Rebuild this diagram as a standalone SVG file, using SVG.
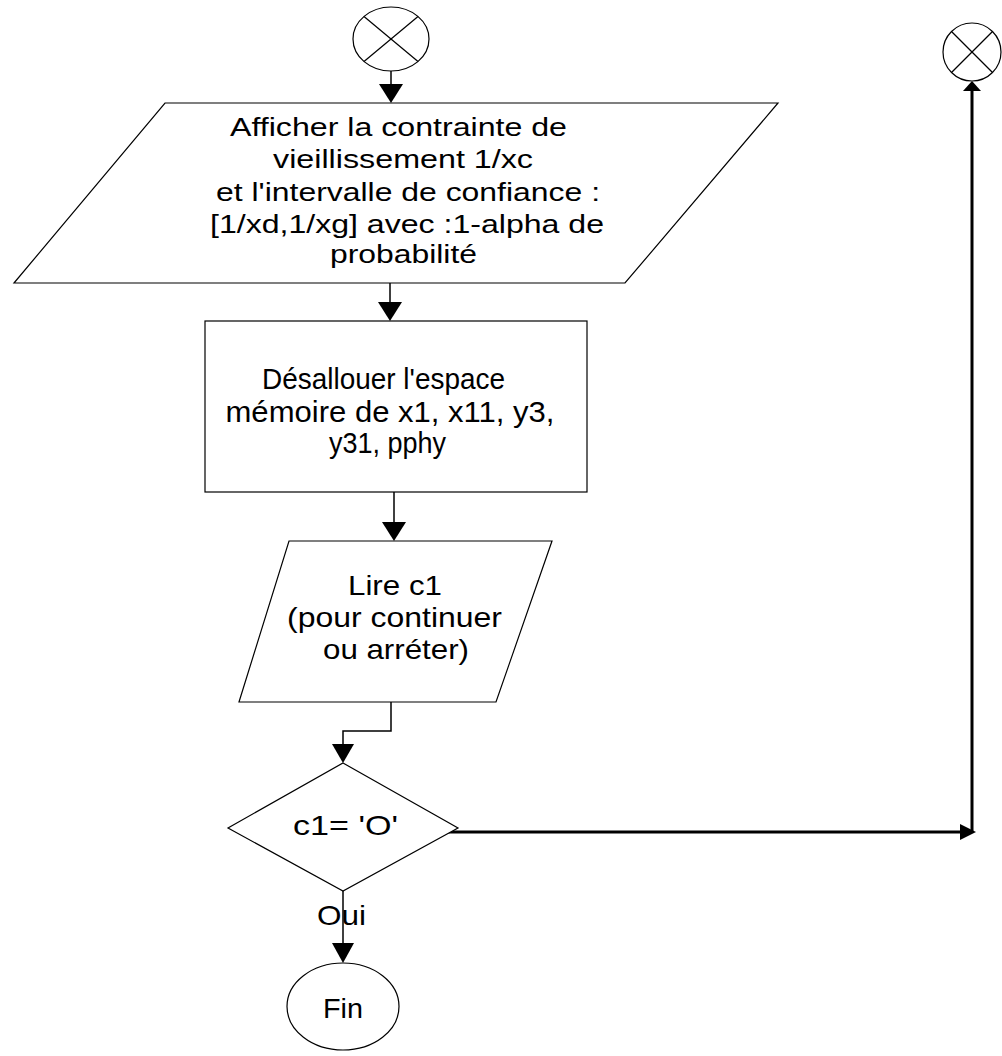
<svg xmlns="http://www.w3.org/2000/svg" width="1002" height="1056" viewBox="0 0 1002 1056">
  <style>
    .shape { fill: #ffffff; stroke: #000000; stroke-width: 1.2; }
    .cross { stroke: #000000; stroke-width: 1.2; fill: none; }
    .wire { fill: none; stroke: #000000; stroke-width: 1.5; }
    .wire-bold { fill: none; stroke: #000000; stroke-width: 3; }
    .head { fill: #000000; stroke: none; }
    .label { font-family: "Liberation Sans", Arial, sans-serif; fill: #000000; text-anchor: middle; }
    .t26 { font-size: 26px; }
    .t28 { font-size: 28px; }
    .t29 { font-size: 29px; }
  </style>
  <rect width="1002" height="1056" fill="#ffffff"/>

  <!-- connectors -->
  <g id="connectors">
    <!-- start connector -> display -->
    <line class="wire" x1="391" y1="71" x2="391" y2="86"/>
    <polygon class="head" points="379,84 403,84 391,103"/>
    <!-- display -> free memory -->
    <line class="wire" x1="390" y1="283" x2="390" y2="304"/>
    <polygon class="head" points="378,302 402,302 390,321"/>
    <!-- free memory -> read c1 -->
    <line class="wire" x1="394" y1="492" x2="394" y2="524"/>
    <polygon class="head" points="382,522 406,522 394,541"/>
    <!-- read c1 -> test -->
    <polyline class="wire" points="391,702 391,731 343,731 343,746"/>
    <polygon class="head" points="332,744 354,744 343,763"/>
    <!-- test (Oui) -> Fin -->
    <line class="wire" x1="343" y1="891" x2="343" y2="945"/>
    <polygon class="head" points="332,943 354,943 343,963"/>
    <text class="label t28" x="341.5" y="925" textLength="49" lengthAdjust="spacingAndGlyphs">Oui</text>
    <!-- test (else) -> loop back connector -->
    <line class="wire-bold" x1="442" y1="832" x2="962" y2="832"/>
    <polygon class="head" points="960,824 960,840 976,832"/>
    <line class="wire-bold" x1="972" y1="832" x2="972" y2="89"/>
    <polygon class="head" points="963,91 981,91 972,81"/>
  </g>

  <!-- start connector -->
  <g id="start">
    <ellipse class="shape" cx="391" cy="39" rx="38" ry="32"/>
    <line class="cross" x1="364" y1="16.5" x2="418" y2="61.5"/>
    <line class="cross" x1="418" y1="16.5" x2="364" y2="61.5"/>
  </g>

  <!-- loop back connector -->
  <g id="loop">
    <circle class="shape" cx="972" cy="52" r="29"/>
    <line class="cross" x1="951.5" y1="31.5" x2="992.5" y2="72.5"/>
    <line class="cross" x1="992.5" y1="31.5" x2="951.5" y2="72.5"/>
  </g>

  <!-- display result -->
  <g id="display">
    <polygon class="shape" points="165,103 778,103 625,283 14,283"/>
    <text class="label t26" x="398.5" y="136" textLength="337" lengthAdjust="spacingAndGlyphs">Afficher la contrainte de</text>
    <text class="label t26" x="403" y="168" textLength="260" lengthAdjust="spacingAndGlyphs">vieillissement 1/xc</text>
    <text class="label t26" x="408" y="201" textLength="384" lengthAdjust="spacingAndGlyphs">et l'intervalle de confiance :</text>
    <text class="label t26" x="407" y="233" textLength="394" lengthAdjust="spacingAndGlyphs">[1/xd,1/xg] avec :1-alpha de</text>
    <text class="label t26" x="403.5" y="263" textLength="147" lengthAdjust="spacingAndGlyphs">probabilité</text>
  </g>

  <!-- free memory -->
  <g id="free">
    <rect class="shape" x="205" y="321" width="382" height="171"/>
    <text class="label t29" x="383.5" y="389" textLength="243" lengthAdjust="spacingAndGlyphs">Désallouer l'espace</text>
    <text class="label t29" x="390" y="422" textLength="329" lengthAdjust="spacingAndGlyphs">mémoire de x1, x11, y3,</text>
    <text class="label t29" x="387.5" y="453" textLength="117" lengthAdjust="spacingAndGlyphs">y31, pphy</text>
  </g>

  <!-- read c1 -->
  <g id="read">
    <polygon class="shape" points="289,541 552,541 496,702 239,702"/>
    <text class="label t28" x="395" y="595" textLength="94" lengthAdjust="spacingAndGlyphs">Lire c1</text>
    <text class="label t28" x="394.5" y="627" textLength="215" lengthAdjust="spacingAndGlyphs">(pour continuer</text>
    <text class="label t28" x="396" y="659" textLength="146" lengthAdjust="spacingAndGlyphs">ou arréter)</text>
  </g>

  <!-- test c1 -->
  <g id="test">
    <polygon class="shape" points="343,763 458,828 343,891 228,828"/>
    <text class="label t28" x="345.5" y="835" textLength="105" lengthAdjust="spacingAndGlyphs">c1= 'O'</text>
  </g>

  <!-- end -->
  <g id="end">
    <ellipse class="shape" cx="343" cy="1006.5" rx="56" ry="43.5"/>
    <text class="label t28" x="343" y="1018" textLength="40" lengthAdjust="spacingAndGlyphs">Fin</text>
  </g>
</svg>
